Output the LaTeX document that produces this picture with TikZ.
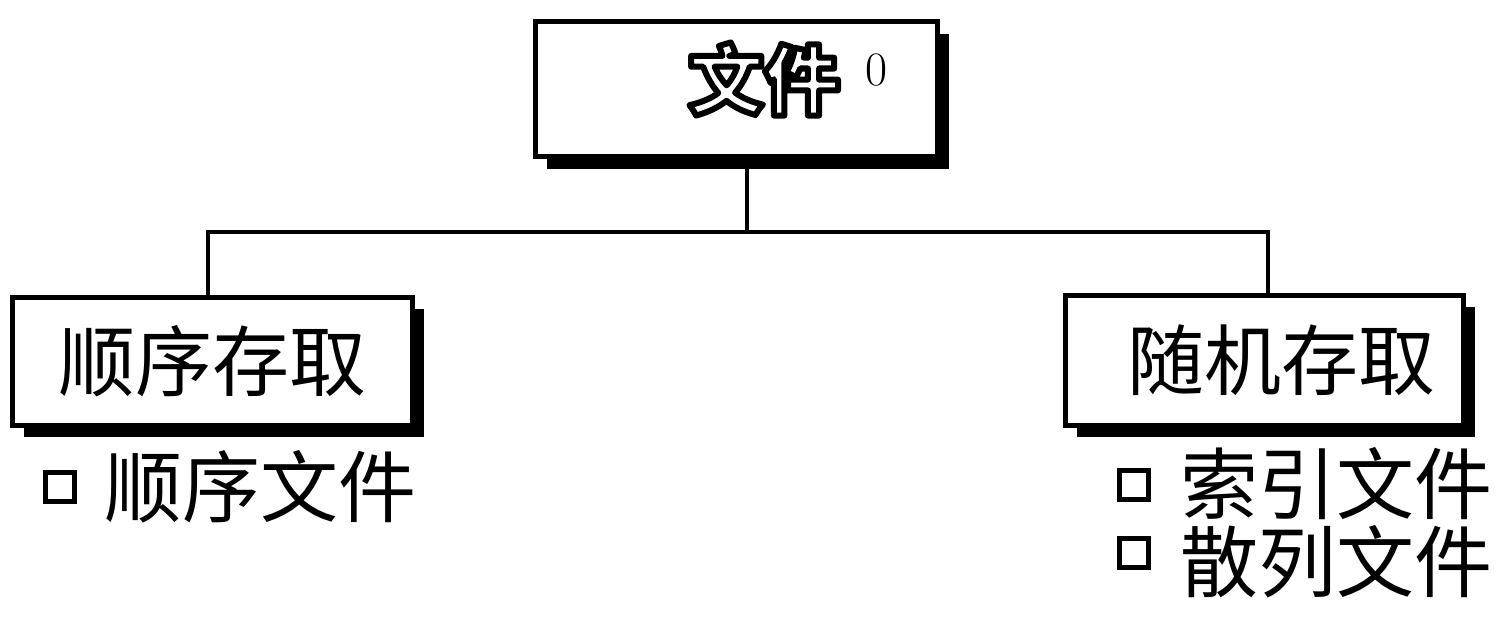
\documentclass[tikz,border=0pt]{standalone}
\usepackage{fontspec}
\newfontfamily\cjk{Noto Sans CJK SC}
\usetikzlibrary{shadows}
\tikzset{
  boxnode/.style={draw=black, line width=5pt, fill=white, rectangle, inner sep=0pt,
    drop shadow={shadow xshift=12pt, shadow yshift=-12pt, fill=black, opacity=1},
    font=\cjk\fontsize{77}{77}\selectfont},
  conn/.style={line width=4pt, line cap=rect},
  item/.style={anchor=west, inner sep=0pt, font=\cjk\fontsize{78}{78}\selectfont},
  bullet/.style={draw=black, line width=5pt, fill=white, rectangle, inner sep=0pt, minimum width=29pt, minimum height=29pt},
  outl/.style={inner sep=0pt, font=\cjk\bfseries\fontsize{76}{76}\selectfont},
}
\newcommand{\outlinetext}[1]{\color{white}\special{pdf:literal direct 0 0 0 RG 6 w 1 j 2 Tr}#1\special{pdf:literal direct 0 Tr 0.4 w}}
\begin{document}
\begin{tikzpicture}[x=1pt,y=-1pt]
\useasboundingbox (0,0) rectangle (1509,630);
\fill[white] (0,0) rectangle (1509,630);
% boxes
\node[boxnode, minimum width=402pt, minimum height=135pt] (top) at (736,89) {};
\node[boxnode, minimum width=400pt, minimum height=128pt] (left) at (212,361) {顺序存取};
\node[boxnode, minimum width=398pt, minimum height=130pt] (right) at (1264,360) {\hspace{34pt}随机存取};
\node[inner sep=0pt, font=\fontsize{48}{48}\selectfont] (mark) at (877,70) {0};
% connectors
\coordinate (bus) at (0,232);
\draw[conn] ([xshift=11pt]top.south) -- ([xshift=11pt]top.south |- bus);
\draw[conn] ([xshift=-4pt]left.north) -- ([xshift=-4pt]left.north |- bus) -- ([xshift=4pt]right.north |- bus) -- ([xshift=4pt]right.north);
% items
\node[bullet] (b1) at (60,487) {};
\node[item] (i1) at (104,487) {顺序文件};
\node[bullet] (b2) at (1134,485) {};
\node[item] (i2) at (1180,484) {索引文件};
\node[bullet] (b3) at (1134,553) {};
\node[item] (i3) at (1180,562) {散列文件};
% outlined title text
\node[outl] (title) at (764,79) {\outlinetext{文件}};
\end{tikzpicture}
\end{document}
